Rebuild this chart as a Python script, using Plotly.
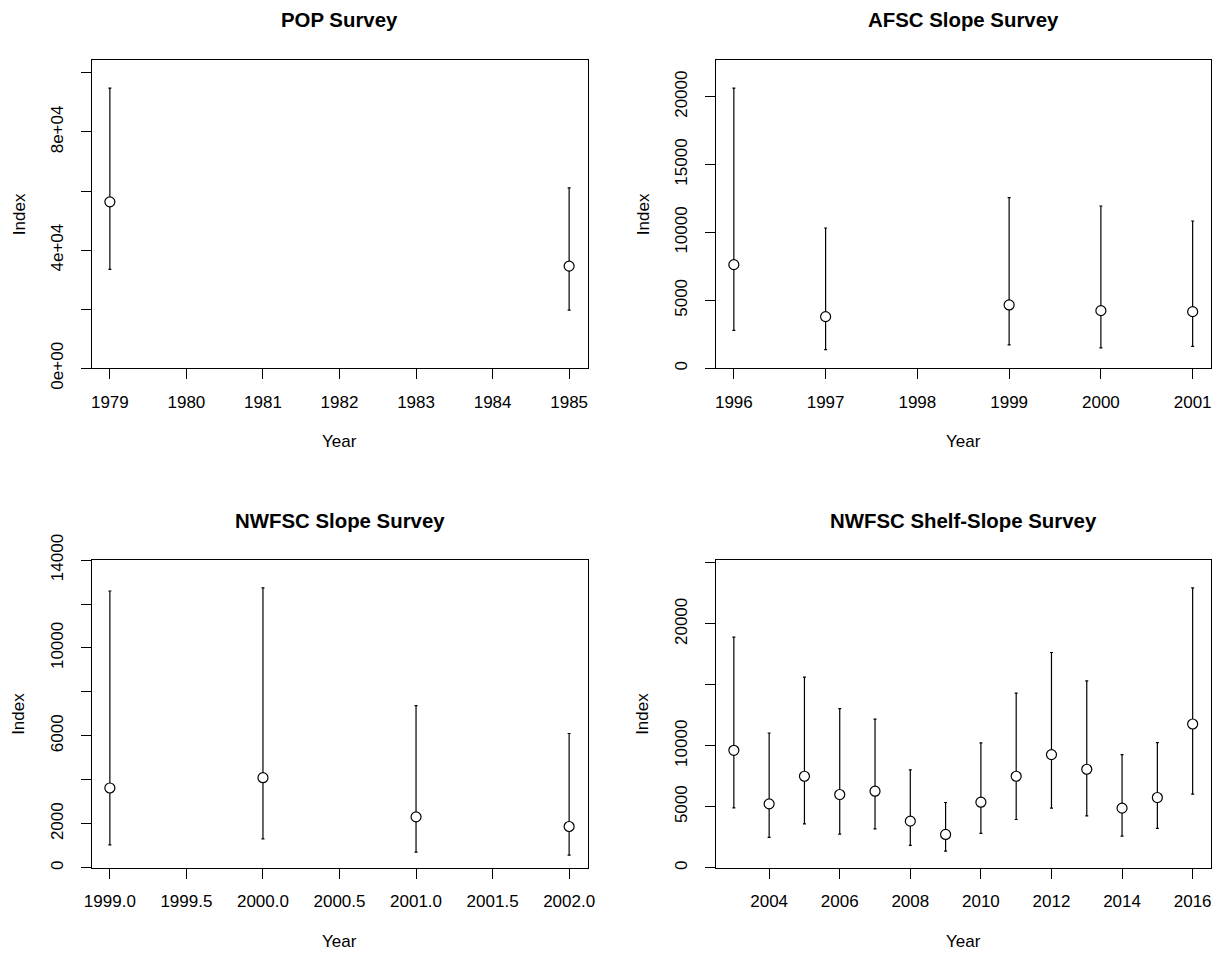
import plotly.graph_objects as go

# ---- data ----
pop_years = [1979, 1985]
pop_index = [56340, 34590]
pop_lo = [33460, 19720]
pop_hi = [94870, 61070]

afsc_years = [1996, 1997, 1999, 2000, 2001]
afsc_index = [7632, 3804, 4663, 4245, 4172]
afsc_lo = [2798, 1374, 1718, 1497, 1620]
afsc_hi = [20638, 10331, 12564, 11951, 10847]

nwslope_years = [1999, 2000, 2001, 2002]
nwslope_index = [3628, 4097, 2313, 1875]
nwslope_lo = [1043, 1315, 710, 574]
nwslope_hi = [12592, 12730, 7377, 6107]

shelf_years = [2003, 2004, 2005, 2006, 2007, 2008, 2009, 2010, 2011, 2012, 2013, 2014, 2015, 2016]
shelf_index = [9632, 5239, 7503, 6003, 6276, 3820, 2729, 5375, 7503, 9277, 8076, 4884, 5757, 11787]
shelf_lo = [4911, 2483, 3602, 2756, 3192, 1828, 1364, 2810, 3956, 4884, 4256, 2592, 3220, 6030]
shelf_hi = [18909, 11050, 15634, 13042, 12196, 8022, 5348, 10232, 14325, 17653, 15334, 9277, 10259, 22947]

titles = ["POP Survey", "AFSC Slope Survey", "NWFSC Slope Survey", "NWFSC Shelf-Slope Survey"]

pop_xticks = [1979, 1980, 1981, 1982, 1983, 1984, 1985]
pop_xlabels = ["1979", "1980", "1981", "1982", "1983", "1984", "1985"]
pop_yticks = [0, 20000, 40000, 60000, 80000, 100000]
pop_ylabels = ["0e+00", "", "4e+04", "", "8e+04", ""]

afsc_xticks = [1996, 1997, 1998, 1999, 2000, 2001]
afsc_xlabels = ["1996", "1997", "1998", "1999", "2000", "2001"]
afsc_yticks = [0, 5000, 10000, 15000, 20000]
afsc_ylabels = ["0", "5000", "10000", "15000", "20000"]

nwslope_xticks = [1999.0, 1999.5, 2000.0, 2000.5, 2001.0, 2001.5, 2002.0]
nwslope_xlabels = ["1999.0", "1999.5", "2000.0", "2000.5", "2001.0", "2001.5", "2002.0"]
nwslope_yticks = [0, 2000, 4000, 6000, 8000, 10000, 12000, 14000]
nwslope_ylabels = ["0", "2000", "", "6000", "", "10000", "", "14000"]

shelf_xticks = [2004, 2006, 2008, 2010, 2012, 2014, 2016]
shelf_xlabels = ["2004", "2006", "2008", "2010", "2012", "2014", "2016"]
shelf_yticks = [0, 5000, 10000, 15000, 20000, 25000]
shelf_ylabels = ["0", "5000", "10000", "", "20000", ""]

panels = [
    (pop_years, pop_index, pop_lo, pop_hi, pop_xticks, pop_xlabels, pop_yticks, pop_ylabels),
    (afsc_years, afsc_index, afsc_lo, afsc_hi, afsc_xticks, afsc_xlabels, afsc_yticks, afsc_ylabels),
    (nwslope_years, nwslope_index, nwslope_lo, nwslope_hi, nwslope_xticks, nwslope_xlabels, nwslope_yticks, nwslope_ylabels),
    (shelf_years, shelf_index, shelf_lo, shelf_hi, shelf_xticks, shelf_xlabels, shelf_yticks, shelf_ylabels),
]

W, H = 1219, 955
# plot box pixel positions (left, right, top, bottom)
boxes = [
    (91.5, 587.5, 60, 368.3),
    (715.5, 1211, 60, 368.3),
    (91.5, 587.5, 560, 867.7),
    (715.5, 1211, 560, 867.7),
]

FONT = "Liberation Sans, Arial, sans-serif"
fig = go.Figure()
layout = dict(
    template="none",
    width=W, height=H, margin=dict(l=0, r=0, t=0, b=0, pad=0, autoexpand=False),
    paper_bgcolor="white", plot_bgcolor="white", showlegend=False,
    font=dict(family=FONT, size=17, color="black"),
)
annotations = []

for i, (yrs, idx, lo, hi, xt, xl, yt, yl) in enumerate(panels):
    n = i + 1
    xa = "x" if n == 1 else f"x{n}"
    ya = "y" if n == 1 else f"y{n}"
    fig.add_trace(go.Scatter(
        x=yrs, y=idx, xaxis=xa, yaxis=ya, mode="markers",
        marker=dict(symbol="circle", size=10, color="white",
                    line=dict(color="black", width=1.2)),
        error_y=dict(type="data", symmetric=False,
                     array=[h - v for h, v in zip(hi, idx)],
                     arrayminus=[v - l for v, l in zip(idx, lo)],
                     color="black", thickness=1.2, width=1.5),
        hoverinfo="skip",
    ))
    L, R, T, B = boxes[i]
    span = max(yrs) - min(yrs)
    xr = [min(yrs) - 0.04 * span, max(yrs) + 0.04 * span]
    yr = [0, 1.1 * max(hi)]
    axis_common = dict(showline=True, linecolor="black", linewidth=1, mirror=True,
                       ticks="outside", ticklen=10, tickwidth=1, tickcolor="black",
                       showgrid=False, zeroline=False, automargin=False,
                       tickfont=dict(family=FONT, size=17, color="black"))
    layout["xaxis" if n == 1 else f"xaxis{n}"] = dict(
        domain=[L / W, R / W], range=xr, anchor=ya,
        tickvals=xt, ticktext=xl, tickangle=0, ticklabelstandoff=8, **axis_common)
    layout["yaxis" if n == 1 else f"yaxis{n}"] = dict(
        domain=[1 - B / H, 1 - T / H], range=yr, anchor=xa,
        tickvals=yt, ticktext=yl, tickangle=-90, ticklabelstandoff=11, **axis_common)
    cx = (L + R) / 2 / W
    cy = 1 - (T + B) / 2 / H
    ty = 20.5 if i < 2 else 520.5
    yy = 441 if i < 2 else 941
    ix = 19 if i % 2 == 0 else 643
    annotations.append(dict(text="<b>" + titles[i] + "</b>", x=cx, y=1 - ty / H,
                            xref="paper", yref="paper", showarrow=False,
                            xanchor="center", yanchor="middle",
                            font=dict(family=FONT, size=20.4, color="black")))
    annotations.append(dict(text="Year", x=cx, y=1 - yy / H,
                            xref="paper", yref="paper", showarrow=False,
                            xanchor="center", yanchor="middle",
                            font=dict(family=FONT, size=17, color="black")))
    annotations.append(dict(text="Index", x=ix / W, y=cy, textangle=-90,
                            xref="paper", yref="paper", showarrow=False,
                            xanchor="center", yanchor="middle",
                            font=dict(family=FONT, size=17, color="black")))

layout["annotations"] = annotations
fig.update_layout(**layout)
fig.write_html("out.html", config={"displayModeBar": False, "responsive": False},
               post_script="document.body.style.margin='0';document.body.style.overflow='hidden';")
